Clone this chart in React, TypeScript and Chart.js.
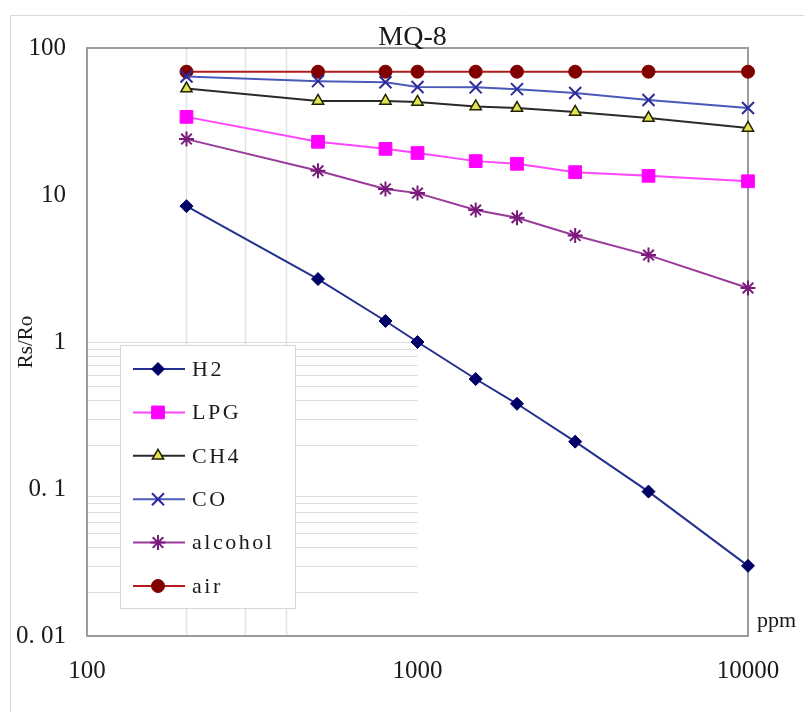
import React, { useEffect, useRef } from 'react';
import { Chart, registerables } from 'chart.js';
import * as helpers from 'chart.js/helpers';

Chart.register(...registerables);

// ---- data ----
const ppm = [200, 500, 800, 1000, 1500, 2000, 3000, 5000, 10000];
const h2 = [8.4, 2.68, 1.39, 1.0, 0.56, 0.38, 0.21, 0.096, 0.03];
const lpg = [34, 23, 20.6, 19.3, 17, 16.3, 14.3, 13.5, 12.4];
const ch4 = [53, 43.6, 43.6, 43, 40, 39, 36.7, 33.4, 28.6];
const co = [64, 59.5, 58.5, 54.3, 54, 52.5, 49.4, 44.3, 39.1];
const alcohol = [24, 14.6, 11, 10.3, 7.9, 7.0, 5.3, 3.9, 2.33];
const air = [69, 69, 69, 69, 69, 69, 69, 69, 69];

const xTicks = [100, 1000, 10000];
const xTickLabels = ['100', '1000', '10000'];
const yTicks = [0.01, 0.1, 1, 10, 100];
const yTickLabels = ['0. 01', '0. 1', '1', '10', '100'];

const xMinorGrid = [200, 300, 400];
const yMinorGrid = [0.02, 0.03, 0.04, 0.05, 0.06, 0.07, 0.08, 0.09, 0.2, 0.3, 0.4, 0.5, 0.6, 0.7, 0.8, 0.9, 1];

const chartTitle = 'MQ-8';
const xTitle = 'ppm';
const yTitle = 'Rs/Ro';

const SERIF = '"Liberation Serif", "Times New Roman", serif';

const pts = (vals: number[]) => ppm.map((x, i) => ({ x, y: vals[i] }));

const backgroundPlugin = {
  id: 'bgFrame',
  beforeDraw(chart: any) {
    const { ctx, width, height } = chart;
    ctx.save();
    ctx.fillStyle = '#ffffff';
    ctx.fillRect(0, 0, width, height);
    ctx.strokeStyle = '#d9d9d9';
    ctx.lineWidth = 1;
    ctx.beginPath();
    ctx.moveTo(10.5, height);
    ctx.lineTo(10.5, 15.5);
    ctx.lineTo(width, 15.5);
    ctx.stroke();
    ctx.restore();
  },
};

const gridPlugin = {
  id: 'partialGrid',
  beforeDatasetsDraw(chart: any) {
    const { ctx, chartArea } = chart;
    const xs = chart.scales.x;
    const ys = chart.scales.y;
    ctx.save();
    ctx.strokeStyle = '#e3e3e3';
    ctx.lineWidth = 1.5;
    xMinorGrid.forEach((v) => {
      const px = Math.round(xs.getPixelForValue(v)) + 0.5;
      ctx.beginPath();
      ctx.moveTo(px, chartArea.top);
      ctx.lineTo(px, chartArea.bottom);
      ctx.stroke();
    });
    ctx.lineWidth = 1;
    ctx.strokeStyle = '#dedede';
    const xl = xs.getPixelForValue(100);
    const xr = xs.getPixelForValue(1000);
    yMinorGrid.forEach((v) => {
      const py = Math.round(ys.getPixelForValue(v)) + 0.5;
      ctx.beginPath();
      ctx.moveTo(xl, py);
      ctx.lineTo(xr, py);
      ctx.stroke();
    });
    // plot frame
    ctx.strokeStyle = '#9c9c9c';
    ctx.lineWidth = 2;
    ctx.strokeRect(chartArea.left, chartArea.top, chartArea.right - chartArea.left, chartArea.bottom - chartArea.top);
    ctx.restore();
  },
};

const textPlugin = {
  id: 'texts',
  afterDraw(chart: any) {
    const { ctx, chartArea } = chart;
    ctx.save();
    ctx.fillStyle = '#1a1a1a';
    ctx.font = `28px ${SERIF}`;
    ctx.textAlign = 'center';
    ctx.textBaseline = 'alphabetic';
    ctx.fillText(chartTitle, (chartArea.left + chartArea.right) / 2 - 5, chartArea.top - 3);
    ctx.font = `22px ${SERIF}`;
    ctx.textAlign = 'left';
    ctx.fillText(xTitle, chartArea.right + 9, chartArea.bottom - 9);
    ctx.restore();
  },
};

const legendPlugin = {
  id: 'insideLegend',
  afterDatasetsDraw(chart: any) {
    const { ctx, chartArea } = chart;
    const ys = chart.scales.y;
    const x0 = chartArea.left + 33;
    const y0 = Math.round(ys.getPixelForValue(1)) + 3;
    const w = 175;
    const h = 263;
    ctx.save();
    ctx.fillStyle = '#ffffff';
    ctx.fillRect(x0, y0, w, h);
    ctx.strokeStyle = '#d6d6d6';
    ctx.lineWidth = 1;
    ctx.strokeRect(x0 + 0.5, y0 + 0.5, w, h);
    chart.data.datasets.forEach((ds: any, i: number) => {
      const cy = y0 + 24 + i * 43.4;
      ctx.strokeStyle = ds.borderColor;
      ctx.lineWidth = ds.borderWidth;
      ctx.beginPath();
      ctx.moveTo(x0 + 13, cy);
      ctx.lineTo(x0 + 65, cy);
      ctx.stroke();
      ctx.fillStyle = ds.pointBackgroundColor;
      ctx.strokeStyle = ds.pointBorderColor;
      ctx.lineWidth = ds.pointBorderWidth;
      helpers.drawPoint(ctx, {
        pointStyle: ds.pointStyle,
        rotation: 0,
        radius: ds.pointRadius,
        borderWidth: ds.pointBorderWidth,
      } as any, x0 + 38, cy);
      ctx.fillStyle = '#1a1a1a';
      ctx.font = `22px ${SERIF}`;
      (ctx as any).letterSpacing = '2.5px';
      ctx.textAlign = 'left';
      ctx.textBaseline = 'middle';
      ctx.fillText(ds.label, x0 + 72, cy + 1);
      (ctx as any).letterSpacing = '0px';
    });
    ctx.restore();
  },
};

export default function App() {
  const ref = useRef<HTMLCanvasElement | null>(null);

  useEffect(() => {
    if (!ref.current) return;
    const chart = new Chart(ref.current, {
      type: 'line',
      data: {
        datasets: [
          {
            label: 'H2', data: pts(h2),
            borderColor: '#24308e', borderWidth: 2,
            pointStyle: 'rectRot', pointRadius: 6.5,
            pointBackgroundColor: '#000066', pointBorderColor: '#000066', pointBorderWidth: 1,
          },
          {
            label: 'LPG', data: pts(lpg),
            borderColor: '#ff44ff', borderWidth: 2,
            pointStyle: 'rect', pointRadius: 9,
            pointBackgroundColor: '#ff00ff', pointBorderColor: '#ff00ff', pointBorderWidth: 1,
          },
          {
            label: 'CH4', data: pts(ch4),
            borderColor: '#2a2a2a', borderWidth: 2,
            pointStyle: 'triangle', pointRadius: 6.5,
            pointBackgroundColor: '#e2e255', pointBorderColor: '#222200', pointBorderWidth: 1.5,
          },
          {
            label: 'CO', data: pts(co),
            borderColor: '#4a5abb', borderWidth: 2,
            pointStyle: 'crossRot', pointRadius: 8.5,
            pointBackgroundColor: '#2a2a9a', pointBorderColor: '#2a2a9a', pointBorderWidth: 2,
          },
          {
            label: 'alcohol', data: pts(alcohol),
            borderColor: '#9a3a9a', borderWidth: 2,
            pointStyle: 'star', pointRadius: 7.5,
            pointBackgroundColor: '#7a1a7a', pointBorderColor: '#7a1a7a', pointBorderWidth: 2,
          },
          {
            label: 'air', data: pts(air),
            borderColor: '#b01c1c', borderWidth: 2,
            pointStyle: 'circle', pointRadius: 6.5,
            pointBackgroundColor: '#800000', pointBorderColor: '#800000', pointBorderWidth: 1,
          },
        ] as any,
      },
      options: {
        responsive: false,
        animation: false,
        devicePixelRatio: 1,
        clip: false as any,
        layout: { padding: { left: 0, right: 56, top: 48, bottom: 0 } },
        elements: { line: { tension: 0 } },
        plugins: {
          legend: { display: false },
          title: { display: false },
          tooltip: { enabled: false },
        },
        scales: {
          x: {
            type: 'logarithmic',
            min: 100,
            max: 10000,
            grid: { display: false, drawTicks: false, tickLength: 0 },
            border: { display: false },
            afterBuildTicks: (s: any) => { s.ticks = xTicks.map((v) => ({ value: v })); },
            afterFit: (s: any) => { s.height = 76; s.paddingLeft = 0; s.paddingRight = 0; },
            ticks: {
              autoSkip: false,
              maxRotation: 0,
              minRotation: 0,
              padding: 20,
              color: '#1a1a1a',
              font: { family: SERIF, size: 25 },
              callback: (_v: any, i: number) => xTickLabels[i],
            },
          },
          y: {
            type: 'logarithmic',
            min: 0.01,
            max: 100,
            grid: { display: false, drawTicks: false, tickLength: 0 },
            border: { display: false },
            afterBuildTicks: (s: any) => { s.ticks = yTicks.map((v) => ({ value: v })); },
            afterFit: (s: any) => { s.width = 87; s.paddingTop = 0; s.paddingBottom = 0; },
            title: {
              display: true,
              text: yTitle,
              color: '#1a1a1a',
              font: { family: SERIF, size: 21 },
              padding: { top: 14, bottom: 0 },
            },
            ticks: {
              autoSkip: false,
              padding: 21,
              color: '#1a1a1a',
              font: { family: SERIF, size: 25 },
              callback: (_v: any, i: number) => yTickLabels[i],
            },
          },
        },
      } as any,
      plugins: [backgroundPlugin, gridPlugin, legendPlugin, textPlugin],
    });
    return () => chart.destroy();
  }, []);

  return (
    <div style={{ position: 'fixed', left: 0, top: 0, width: 804, height: 712, background: '#fff' }}>
      <canvas ref={ref} width={804} height={712} style={{ display: 'block', width: 804, height: 712 }} />
    </div>
  );
}
